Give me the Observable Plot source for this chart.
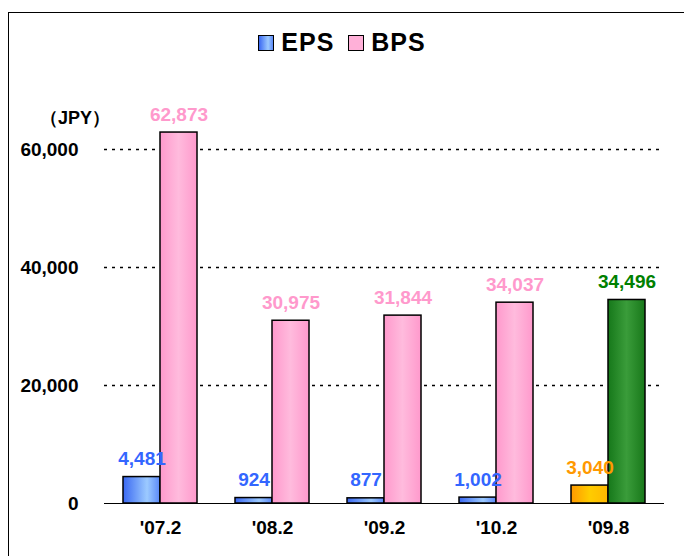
<!DOCTYPE html>
<html>
<head>
<meta charset="utf-8">
<script src="https://cdn.jsdelivr.net/npm/d3@7"></script>
<script src="https://cdn.jsdelivr.net/npm/@observablehq/plot@0.6"></script>
<style>
  html, body { margin: 0; padding: 0; background: #fff; }
  #wrap { position: relative; width: 684px; height: 556px; overflow: hidden; font-family: "Liberation Sans", Arial, sans-serif; font-weight: bold; }
  #frame { position: absolute; left: 8px; top: 12px; width: 700px; height: 600px; border: 1.5px solid #000; box-sizing: border-box; pointer-events: none; }
  #legend { position: absolute; top: 28px; left: 0; width: 684px; display: flex; justify-content: center; align-items: center; font-size: 25px; letter-spacing: 1px; color: #000; }
  .sw { display: inline-block; width: 14px; height: 14px; border: 1.5px solid #000; margin-right: 7px; }
  .item { display: flex; align-items: center; margin: 0 7px; }
  #unit { position: absolute; left: 40px; top: 106px; font-size: 18px; }
  svg { position: absolute; left: 0; top: 0; }
</style>
</head>
<body>
<div id="wrap">
  <div id="legend"></div>
  <div id="unit">（JPY）</div>
  <div id="frame"></div>
</div>
<script>
const periods = ["'07.2", "'08.2", "'09.2", "'10.2", "'09.8"];
const series = ["EPS", "BPS"];
const eps = [4481, 924, 877, 1002, 3040];
const bps = [62873, 30975, 31844, 34037, 34496];
const yTicks = [0, 20000, 40000, 60000];

const rows = [];
periods.forEach((p, i) => {
  rows.push({period: p, series: "EPS", value: eps[i]});
  rows.push({period: p, series: "BPS", value: bps[i]});
});

const special = "'09.8";
const barFill = d => d.period === special
  ? (d.series === "EPS" ? "url(#gOrange)" : "url(#gGreen)")
  : (d.series === "EPS" ? "url(#gBlue)" : "url(#gPink)");
const textFill = d => d.period === special
  ? (d.series === "EPS" ? "#ff9900" : "#008000")
  : (d.series === "EPS" ? "#3366ff" : "#ff99cc");

const fmt = d3.format(",");

const svg = Plot.plot({
  width: 684,
  height: 556,
  marginTop: 90,
  marginBottom: 53,
  marginLeft: 104,
  marginRight: 20,
  style: {fontFamily: "'Liberation Sans', Arial, sans-serif", fontWeight: "bold", fontSize: "19px", background: "transparent", overflow: "visible"},
  fx: {domain: periods, padding: 0, label: null, tickSize: 0, tickPadding: 17},
  x: {domain: series, paddingInner: 0, paddingOuter: 0.493, axis: null},
  y: {domain: [0, 70000], ticks: yTicks, tickFormat: fmt, tickSize: 0, tickPadding: 26, label: null},
  color: {type: "identity"},
  marks: [
    Plot.ruleY(yTicks.filter(t => t > 0), {stroke: "#000", strokeDasharray: "3,5", strokeWidth: 1.3}),
    Plot.barY(rows, {fx: "period", x: "series", y: "value", fill: barFill, stroke: "#000", strokeWidth: 1.5}),
    Plot.ruleY([0], {stroke: "#000", strokeWidth: 1.2}),
    Plot.text(rows, {fx: "period", x: "series", y: "value", text: d => fmt(d.value), fill: textFill, dy: -18, fontSize: 19, fontWeight: "bold"})
  ]
});

const defs = d3.select(svg).insert("defs", ":first-child");
function grad(id, stops) {
  const g = defs.append("linearGradient").attr("id", id).attr("x1", "0").attr("x2", "1").attr("y1", "0").attr("y2", "0");
  stops.forEach(([o, c]) => g.append("stop").attr("offset", o).attr("stop-color", c));
}
grad("gBlue", [[0, "#3a68f2"], [0.65, "#9ccaff"], [1, "#5a88f8"]]);
grad("gPink", [[0, "#ff99cc"], [0.5, "#ffbbdd"], [1, "#ff99cc"]]);
grad("gOrange", [[0, "#ff9900"], [0.5, "#ffcc00"], [1, "#ffb800"]]);
grad("gGreen", [[0, "#16781a"], [0.5, "#3a9c3a"], [1, "#18781a"]]);

const wrap = document.getElementById("wrap");
wrap.insertBefore(svg, wrap.firstChild);

const legend = d3.select("#legend");
const legendItems = [
  {name: "EPS", bg: "linear-gradient(to right, #3a68f2, #9ccaff 65%, #5a88f8)"},
  {name: "BPS", bg: "#ffb0d8"}
];
legendItems.forEach(it => {
  const item = legend.append("div").attr("class", "item");
  item.append("span").attr("class", "sw").style("background", it.bg);
  item.append("span").text(it.name);
});
</script>
</body>
</html>
